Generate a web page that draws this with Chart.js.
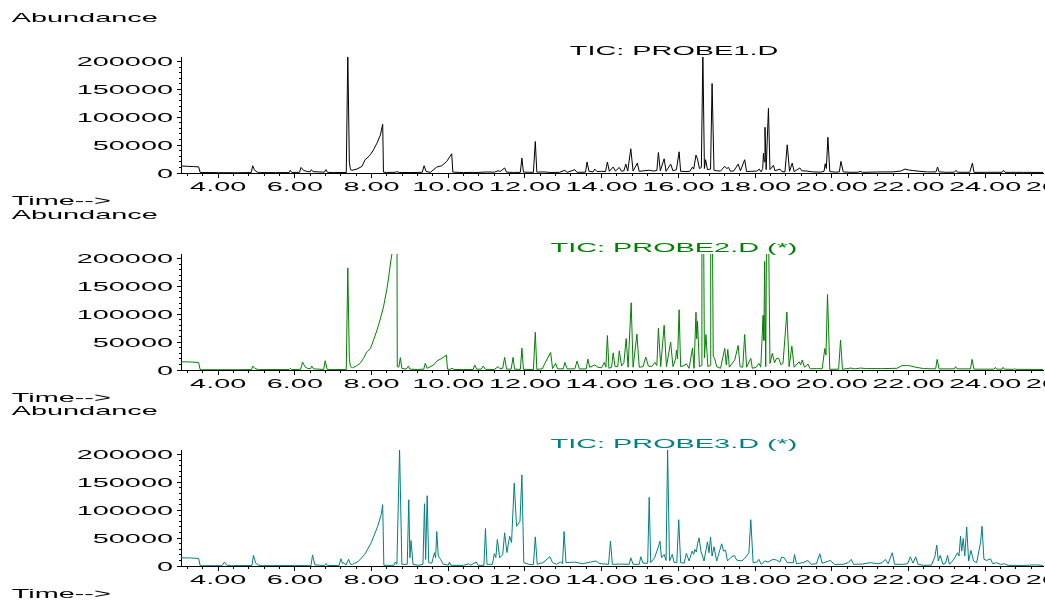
<!DOCTYPE html>
<html>
<head>
<meta charset="utf-8">
<script src="https://cdn.jsdelivr.net/npm/chart.js@4.4.1/dist/chart.umd.min.js"></script>
<style>
  body { margin: 0; background: #fff; width: 1045px; height: 600px; overflow: hidden; position: relative; }
  canvas { position: absolute; left: 0; }
</style>
</head>
<body>
<canvas id="probe1" width="1045" height="210" style="top:0px"></canvas>
<canvas id="probe2" width="1045" height="210" style="top:197px"></canvas>
<canvas id="probe3" width="1045" height="210" style="top:393px"></canvas>
<script>
// [time (min), abundance]
var probe1 = [
  [3.03,12500],[3.20,12000],[3.35,11500],[3.49,11000],[3.53,1000],[4.00,600],[4.50,500],[4.86,800],[4.90,13000],[4.95,5000],
  [5.02,1500],[5.10,800],[5.50,700],[5.85,800],[5.88,4800],[5.92,1000],[6.12,1200],[6.16,10000],[6.22,5000],[6.32,2500],
  [6.40,2200],[6.43,6000],[6.47,2500],[6.60,2000],[6.77,1500],[6.81,6000],[6.85,1200],[7.00,800],[7.34,900],[7.38,215000],
  [7.42,20000],[7.45,6000],[7.49,4800],[7.62,7100],[7.75,11900],[7.83,23800],[7.88,26700],[7.97,32700],[8.05,41600],[8.14,53500],
  [8.23,68300],[8.29,87300],[8.31,1500],[8.40,1000],[8.62,1200],[8.66,2500],[8.72,1000],[9.00,800],[9.32,1200],[9.37,13000],
  [9.42,3000],[9.53,1000],[9.70,10700],[9.83,13000],[9.96,20800],[10.09,34500],[10.12,1500],[10.40,800],[10.65,1200],[10.70,800],
  [11.00,1800],[11.20,1500],[11.30,4000],[11.36,3000],[11.47,9000],[11.52,1500],[11.70,1000],[11.88,1200],[11.92,26700],[11.96,1500],
  [12.22,1200],[12.27,56400],[12.31,1500],[12.50,2000],[12.65,1000],[12.90,1200],[13.04,4800],[13.10,1000],[13.30,6000],[13.36,1200],
  [13.58,1500],[13.62,19600],[13.67,3000],[13.78,2000],[13.82,7000],[13.88,2500],[14.00,3000],[14.10,2500],[14.15,19600],[14.20,3000],
  [14.30,10700],[14.36,3500],[14.46,10000],[14.52,3000],[14.58,4000],[14.63,16000],[14.68,3500],[14.76,43400],[14.82,3500],[14.93,17800],
  [14.98,3000],[15.10,4000],[15.25,5000],[15.35,3500],[15.44,4500],[15.48,36800],[15.53,4000],[15.63,25500],[15.68,3000],[15.80,16000],
  [15.86,4000],[15.95,6000],[16.02,38000],[16.06,3000],[16.20,2500],[16.30,3000],[16.37,10700],[16.40,7000],[16.46,32000],[16.50,25000],
  [16.55,8000],[16.60,10000],[16.64,215000],[16.68,8000],[16.71,23800],[16.76,6000],[16.84,7000],[16.88,160400],[16.93,5000],[17.00,4000],
  [17.10,3500],[17.21,12000],[17.26,8000],[17.31,10000],[17.36,3000],[17.45,4000],[17.56,16000],[17.62,4000],[17.73,23800],[17.78,2500],
  [17.90,3000],[18.05,3500],[18.11,7000],[18.16,2000],[18.20,8000],[18.22,35600],[18.24,20000],[18.26,82000],[18.29,6000],[18.35,115800],
  [18.39,6000],[18.48,13700],[18.52,4000],[18.65,7000],[18.70,2500],[18.78,2000],[18.84,50500],[18.90,3000],[18.97,17800],[19.02,2500],
  [19.17,9000],[19.22,4000],[19.35,3500],[19.50,2000],[19.70,1500],[19.80,3000],[19.83,16600],[19.86,8000],[19.90,64000],[19.95,2500],
  [20.10,1500],[20.20,2000],[20.24,20800],[20.30,2000],[20.50,1200],[20.70,1500],[20.74,3000],[20.80,1200],[21.20,1800],[21.60,2000],
  [21.80,3500],[21.91,7000],[22.00,5500],[22.10,4500],[22.30,3000],[22.50,1800],[22.72,2000],[22.76,10700],[22.80,2000],[23.00,1200],
  [23.20,1500],[23.24,4800],[23.28,1300],[23.60,1300],[23.67,17800],[23.71,1200],[24.00,1200],[24.44,1300],[24.48,4800],[24.52,1200],
  [25.00,1200],[25.51,1000]
];
var probe2 = [
  [3.03,14800],[3.30,14300],[3.49,13500],[3.53,500],[4.50,500],[4.87,800],[4.90,7100],[4.96,2500],[5.05,800],[5.85,800],
  [5.88,3000],[5.92,800],[6.15,1200],[6.20,14300],[6.26,6000],[6.34,2500],[6.41,2500],[6.44,7100],[6.49,2000],[6.75,1000],
  [6.79,16600],[6.84,1200],[7.00,800],[7.34,800],[7.38,183000],[7.42,20000],[7.45,6000],[7.50,4000],[7.60,7100],[7.70,11900],
  [7.79,20800],[7.87,32000],[7.97,38600],[8.05,53500],[8.14,71300],[8.23,92000],[8.31,112800],[8.40,145500],[8.44,163000],[8.49,190000],
  [8.53,208000],[8.58,245000],[8.62,275000],[8.66,300000],[8.67,6000],[8.71,5000],[8.75,22000],[8.79,3000],[8.90,1500],[8.96,7100],
  [9.00,1500],[9.20,1000],[9.36,1500],[9.40,11900],[9.45,3000],[9.62,9000],[9.70,16000],[9.83,20800],[9.95,26700],[9.98,1500],
  [10.05,1200],[10.10,3000],[10.15,1000],[10.40,800],[10.65,1000],[10.69,9000],[10.74,1500],[10.86,1500],[10.91,7100],[10.97,1200],
  [11.20,1000],[11.30,6000],[11.35,2000],[11.42,3000],[11.47,22600],[11.52,1500],[11.64,1500],[11.69,22600],[11.73,1500],[11.88,1200],
  [11.92,39200],[11.96,1200],[12.22,1000],[12.27,67700],[12.31,1200],[12.45,2000],[12.52,12000],[12.67,31500],[12.72,2500],[12.80,11900],
  [12.85,2000],[13.00,2000],[13.04,13700],[13.10,2000],[13.30,2000],[13.36,16000],[13.42,1800],[13.60,2000],[13.64,19600],[13.69,4800],
  [13.82,9000],[13.90,5000],[14.00,4000],[14.07,13700],[14.11,5000],[14.15,61800],[14.19,3000],[14.26,5000],[14.30,30900],[14.35,6000],
  [14.42,6000],[14.46,34500],[14.52,7100],[14.58,13000],[14.64,56400],[14.69,5000],[14.77,120600],[14.82,5000],[14.92,64200],[14.98,5000],
  [15.08,6000],[15.15,23200],[15.22,7000],[15.30,6000],[15.39,13700],[15.44,8000],[15.48,74800],[15.54,6000],[15.63,80200],[15.69,6000],
  [15.80,49900],[15.86,6000],[15.93,20000],[15.95,35600],[15.98,20000],[16.02,108000],[16.06,6000],[16.15,8000],[16.21,11000],[16.28,3000],
  [16.37,39200],[16.41,3000],[16.46,103400],[16.48,56000],[16.50,87300],[16.55,6000],[16.60,8000],[16.615,300000],[16.655,300000],[16.68,22000],
  [16.72,63600],[16.77,6000],[16.83,8000],[16.845,300000],[16.885,300000],[16.91,25000],[16.95,20000],[17.00,6000],[17.10,3000],[17.21,38600],
  [17.25,9000],[17.29,36800],[17.33,5000],[17.47,17800],[17.56,44000],[17.61,6000],[17.68,5000],[17.73,63600],[17.78,5000],[17.89,20800],
  [17.93,3000],[18.03,5000],[18.10,11900],[18.15,5000],[18.21,98000],[18.23,53000],[18.25,194800],[18.28,6000],[18.305,300000],[18.345,300000],
  [18.39,12000],[18.45,29700],[18.51,13000],[18.56,20800],[18.62,20800],[18.68,9000],[18.73,12000],[18.83,104000],[18.89,6000],[18.96,42800],
  [19.02,5000],[19.15,14800],[19.19,9000],[19.23,17800],[19.29,5000],[19.38,10700],[19.44,2000],[19.60,2500],[19.75,2000],[19.82,38600],
  [19.85,26700],[19.89,135400],[19.95,1200],[20.18,1500],[20.23,53500],[20.28,1200],[20.50,3500],[20.60,2000],[20.75,3500],[20.90,2500],
  [21.30,2500],[21.70,3000],[21.83,7700],[21.95,8000],[22.03,7700],[22.20,4800],[22.40,2500],[22.71,2000],[22.75,19000],[22.80,2000],
  [23.20,2000],[23.23,6000],[23.27,2000],[23.62,2000],[23.66,19000],[23.71,1500],[24.23,1500],[24.27,4800],[24.30,1500],[24.44,1500],
  [24.47,4800],[24.50,1500],[24.74,1200],[24.77,3000],[24.80,1200],[25.51,1000]
];
var probe3 = [
  [3.03,14800],[3.30,14300],[3.49,13500],[3.53,500],[4.10,600],[4.16,7100],[4.22,1500],[4.35,600],[4.88,1000],[4.92,19000],
  [4.98,5000],[5.05,1500],[5.15,700],[6.42,700],[6.46,19600],[6.52,2000],[6.78,800],[6.81,4500],[6.85,800],[7.15,1000],
  [7.20,13000],[7.24,4500],[7.28,6000],[7.33,1500],[7.40,11900],[7.45,3000],[7.50,3000],[7.65,8000],[7.82,20800],[7.99,41600],
  [8.16,71300],[8.25,92000],[8.29,110000],[8.32,1200],[8.58,1200],[8.62,7100],[8.66,3000],[8.73,210000],[8.79,3000],[8.93,3000],
  [8.97,118800],[9.00,14800],[9.03,45700],[9.08,3000],[9.22,1200],[9.34,3000],[9.38,111700],[9.41,11900],[9.45,126000],[9.49,6000],
  [9.57,5000],[9.64,23800],[9.67,14800],[9.70,61800],[9.74,17800],[9.80,11900],[9.87,3000],[10.00,1500],[10.03,7100],[10.07,1200],
  [10.40,1200],[10.53,4000],[10.58,1500],[10.73,7100],[10.78,1200],[10.93,1200],[10.97,67100],[11.01,3000],[11.15,3000],[11.20,22000],
  [11.24,15000],[11.28,47500],[11.34,15000],[11.42,20000],[11.47,59400],[11.53,24000],[11.60,53500],[11.65,42000],[11.72,148500],[11.78,71300],
  [11.82,75000],[11.87,80200],[11.92,163400],[11.97,6000],[12.10,3000],[12.22,2500],[12.27,52300],[12.32,3000],[12.47,6000],[12.65,16600],
  [12.72,6000],[12.82,3000],[12.93,7100],[12.98,4000],[13.02,61800],[13.07,6000],[13.30,7000],[13.50,4000],[13.70,7000],[13.85,9000],
  [13.93,5000],[14.00,4000],[14.18,3000],[14.23,44500],[14.28,3000],[14.50,3500],[14.72,3000],[14.76,14800],[14.82,3000],[14.98,3000],
  [15.02,16600],[15.08,5000],[15.20,5000],[15.24,123000],[15.28,6000],[15.38,14800],[15.48,34500],[15.52,44500],[15.56,14800],[15.63,20800],
  [15.68,10000],[15.72,208000],[15.77,9000],[15.84,20800],[15.89,6000],[15.96,6000],[16.01,83000],[16.06,6000],[16.15,5000],[16.21,22600],
  [16.28,9000],[16.36,26700],[16.40,20800],[16.43,29700],[16.47,25000],[16.50,39800],[16.54,50500],[16.59,26700],[16.67,9000],[16.76,43400],
  [16.80,23800],[16.84,51700],[16.88,17800],[16.93,34500],[17.00,9000],[17.13,39800],[17.18,26700],[17.23,28500],[17.28,9000],[17.36,14800],
  [17.46,19000],[17.52,10700],[17.66,9000],[17.78,17800],[17.84,23800],[17.89,83000],[17.95,6000],[18.05,7100],[18.10,11900],[18.16,3000],
  [18.26,9000],[18.34,7100],[18.47,11900],[18.56,10700],[18.65,7100],[18.69,16000],[18.76,14800],[18.84,6000],[19.00,6000],[19.03,20800],
  [19.08,4000],[19.25,6000],[19.38,10000],[19.46,3000],[19.60,4000],[19.69,22000],[19.75,5000],[19.85,7100],[19.96,10000],[20.07,3000],
  [20.30,3000],[20.43,6000],[20.51,11900],[20.57,3000],[20.80,3500],[21.00,6000],[21.20,4000],[21.32,6000],[21.40,11900],[21.47,4000],
  [21.58,23800],[21.64,3000],[21.85,3000],[21.98,4000],[22.05,16600],[22.12,5000],[22.19,16600],[22.25,3000],[22.40,1200],[22.60,1500],
  [22.69,16600],[22.74,37400],[22.78,9000],[22.83,19000],[22.90,3000],[22.97,5000],[23.02,19000],[23.07,3000],[23.15,9000],[23.21,14800],
  [23.28,23800],[23.32,17800],[23.36,53500],[23.39,26700],[23.43,49300],[23.47,17800],[23.52,70100],[23.57,9000],[23.63,27900],[23.70,9000],
  [23.78,6000],[23.88,41600],[23.92,71300],[23.97,12000],[24.04,10000],[24.14,13000],[24.20,4000],[24.30,6000],[24.40,3000],[24.51,4000],
  [24.60,1200],[25.00,1000],[25.30,2000],[25.51,1000]
];

var timeLabels = [4, 6, 8, 10, 12, 14, 16, 18, 20, 22, 24, 26];
var abundanceLabels = [0, 50000, 100000, 150000, 200000];
var titles = ["TIC: PROBE1.D", "TIC: PROBE2.D (*)", "TIC: PROBE3.D (*)"];
var colors = ["#000000", "#008000", "#008080"];

var STRETCH = 2.22; // the printout font is very wide

function wideText(ctx, text, x, y, align, color) {
  ctx.save();
  ctx.font = '13px "Liberation Sans", Arial, sans-serif';
  ctx.fillStyle = color;
  ctx.textAlign = 'left';
  ctx.textBaseline = 'alphabetic';
  var w = ctx.measureText(text).width * STRETCH;
  if (align === 'center') x -= w / 2;
  if (align === 'right') x -= w;
  ctx.translate(x, y);
  ctx.scale(STRETCH, 1);
  ctx.fillText(text, 0, 0);
  ctx.restore();
}

function align(p) {
  return Math.round(p - 0.5) + 0.5;
}

var labelsPlugin = {
  id: 'chemLabels',
  afterDraw: function (chart) {
    var ctx = chart.ctx;
    var xs = chart.scales.x;
    var ys = chart.scales.y;
    var area = chart.chartArea;
    var n = chart.options.plugins.chemLabels.index;

    // longer marks at labelled ticks
    ctx.save();
    ctx.strokeStyle = '#000';
    ctx.lineWidth = 1;
    ctx.beginPath();
    timeLabels.forEach(function (t) {
      if (t > xs.max) return;
      var px = align(xs.getPixelForValue(t));
      ctx.moveTo(px, area.bottom);
      ctx.lineTo(px, area.bottom + 5);
    });
    abundanceLabels.forEach(function (a) {
      var py = align(ys.getPixelForValue(a));
      ctx.moveTo(area.left, py);
      ctx.lineTo(area.left - 4, py);
    });
    ctx.stroke();
    ctx.restore();

    timeLabels.forEach(function (t) {
      wideText(ctx, t.toFixed(2), xs.getPixelForValue(t), area.bottom + 18, 'center', '#000');
    });
    abundanceLabels.forEach(function (a) {
      wideText(ctx, String(a), area.left - 8, ys.getPixelForValue(a) + 4.7, 'right', '#000');
    });
    wideText(ctx, 'Abundance', 11.7, 21.7, 'left', '#000');
    wideText(ctx, 'Time-->', 11.7, 205, 'left', '#000');
    wideText(ctx, titles[n], 674, 55, 'center', colors[n]);
  }
};

function makePanel(id, points, n) {
  var canvas = document.getElementById(id);
  return new Chart(canvas, {
    type: 'line',
    data: {
      datasets: [{
        data: points.map(function (p) { return { x: p[0], y: p[1] }; }),
        borderColor: colors[n],
        borderWidth: 1,
        pointRadius: 0,
        tension: 0,
        fill: false
      }]
    },
    plugins: [labelsPlugin],
    options: {
      responsive: false,
      animation: false,
      devicePixelRatio: 1,
      events: [],
      layout: { padding: { top: 57, right: 2, left: 0, bottom: 0 } },
      plugins: {
        legend: { display: false },
        tooltip: { enabled: false },
        chemLabels: { index: n }
      },
      scales: {
        x: {
          type: 'linear',
          min: 3.03,
          max: 25.51,
          afterBuildTicks: function (s) {
            var ticks = [];
            for (var i = 0; i < 56; i++) ticks.push({ value: Math.round((3.2 + i * 0.4) * 10) / 10 });
            s.ticks = ticks;
          },
          afterFit: function (s) { s.height = 37; },
          ticks: { display: false },
          grid: { drawOnChartArea: false, drawTicks: true, tickLength: 3, color: '#000', lineWidth: 1 },
          border: { display: true, color: '#000', width: 1 }
        },
        y: {
          min: 0,
          max: 208000,
          afterBuildTicks: function (s) {
            var ticks = [];
            for (var v = 0; v <= 200000; v += 10000) ticks.push({ value: v });
            s.ticks = ticks;
          },
          afterFit: function (s) { s.width = 181; },
          ticks: { display: false },
          grid: { drawOnChartArea: false, drawTicks: true, tickLength: 2, color: '#000', lineWidth: 1 },
          border: { display: true, color: '#000', width: 1 }
        }
      }
    }
  });
}

makePanel('probe1', probe1, 0);
makePanel('probe2', probe2, 1);
makePanel('probe3', probe3, 2);
</script>
</body>
</html>
